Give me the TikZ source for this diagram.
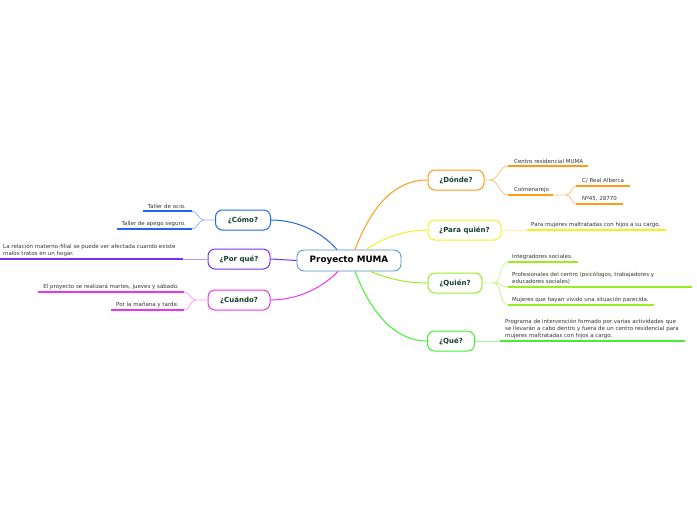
\documentclass[tikz,border=0pt]{standalone}
\usepackage{fontspec}
\setmainfont{DejaVu Sans}
\usetikzlibrary{calc}
\definecolor{corange}{HTML}{FF9A1A}
\definecolor{corangel}{HTML}{FFC27A}
\definecolor{cyellow}{HTML}{F2F222}
\definecolor{cyellowl}{HTML}{F8F8A0}
\definecolor{clgreen}{HTML}{99EE22}
\definecolor{clgreenl}{HTML}{C8F590}
\definecolor{cgreen}{HTML}{44EE33}
\definecolor{cgreenl}{HTML}{A8F5A0}
\definecolor{cblue}{HTML}{2266EE}
\definecolor{cbluel}{HTML}{90B0F5}
\definecolor{cpurple}{HTML}{7733EE}
\definecolor{cpurplel}{HTML}{B898F5}
\definecolor{cmag}{HTML}{EE33EE}
\definecolor{cmagl}{HTML}{F5A0F5}
\definecolor{ccentral}{HTML}{4A90D0}
\definecolor{labelc}{HTML}{123E30}
\definecolor{textc}{HTML}{333333}
\tikzset{
  central/.style={draw=ccentral, line width=0.8pt, rounded corners=7pt, fill=white,
    minimum width=104pt, minimum height=21pt, inner sep=0pt,
    font=\bfseries\fontsize{8.8}{10}\selectfont, text=black},
  branch/.style={draw=#1, line width=1pt, rounded corners=7pt, fill=white,
    minimum height=20pt, inner sep=0pt,
    font=\bfseries\fontsize{7}{8}\selectfont, text=labelc},
  leaf/.style={inner sep=0pt, font=\fontsize{5.5}{7}\selectfont, text=textc, align=left},
  uline/.style={draw=#1, line width=1.2pt},
  conn/.style={draw=#1, line width=1pt},
  lconn/.style={draw=#1, line width=0.8pt},
}
\begin{document}
\begin{tikzpicture}[x=1pt,y=-1pt]
\useasboundingbox (0,0) rectangle (697,520);

% central and branches
\node[central] (c) at (349,260.5) {Proyecto MUMA};
\node[branch=corange, minimum width=56pt] (dn) at (456,180) {¿Dónde?};
\node[branch=cyellow, minimum width=73pt] (pq) at (464.5,230) {¿Para quién?};
\node[branch=clgreen, minimum width=54pt] (qn) at (455,283) {¿Quién?};
\node[branch=cgreen, minimum width=47pt] (qe) at (451,341) {¿Qué?};
\node[branch=cblue, minimum width=55pt] (cm) at (243,220) {¿Cómo?};
\node[branch=cpurple, minimum width=62pt] (pr) at (239,259) {¿Por qué?};
\node[branch=cmag, minimum width=62pt] (cu) at (239,300) {¿Cuándo?};

% central connectors
\draw[conn=corange] ([xshift=6pt]c.north) .. controls (372,205) and (395,180) .. (dn.west);
\draw[conn=cyellow] ([xshift=17pt]c.north) .. controls (385,237) and (405,230) .. (pq.west);
\draw[conn=clgreen] ([xshift=21pt]c.south) .. controls (390,279) and (405,283) .. (qn.west);
\draw[conn=cgreen] ([xshift=6pt]c.south) .. controls (373,318) and (398,341) .. (qe.west);
\draw[conn=cblue] ([xshift=-12pt]c.north) .. controls (318,228) and (292,220) .. (cm.east);
\draw[conn=cpurple] (c.west) -- (pr.east);
\draw[conn=cmag] ([xshift=-11pt]c.south) .. controls (318,292) and (292,300) .. (cu.east);

% ---------- Dónde ----------
\coordinate (d1s) at (508,166); \coordinate (d1e) at (588,166);
\coordinate (d2s) at (508,195); \coordinate (d2e) at (553,195);
\coordinate (d3s) at (576,186); \coordinate (d3e) at (630,186);
\coordinate (d4s) at (576,204); \coordinate (d4e) at (623,204);
\coordinate (dsp) at (490,180);
\coordinate (d2sp) at (566,195);
\node[leaf, anchor=south west] (d1t) at (514,163.5) {Centro residencial MUMA};
\node[leaf, anchor=south west] (d2t) at (514,192.5) {Colmenarejo};
\node[leaf, anchor=south west] (d3t) at (582,183.5) {C/ Real Alberca};
\node[leaf, anchor=south west] (d4t) at (582,201.5) {Nº45, 28770};
\draw[lconn=corangel] (dn.east) -- (dsp) .. controls (499,180) and (499,166) .. (d1s);
\draw[lconn=corangel] (dsp) .. controls (499,180) and (499,195) .. (d2s);
\draw[lconn=corangel] (d2e) -- (d2sp) .. controls (572,195) and (571,186) .. (d3s);
\draw[lconn=corangel] (d2sp) .. controls (572,195) and (571,204) .. (d4s);
\draw[uline=corange] (d1s) -- (d1e);
\draw[uline=corange] (d2s) -- (d2e);
\draw[uline=corange] (d3s) -- (d3e);
\draw[uline=corange] (d4s) -- (d4e);

% ---------- Para quién ----------
\coordinate (p1s) at (527,230); \coordinate (p1e) at (666,230);
\node[leaf, anchor=south west] (p1t) at (531,227.5) {Para mujeres maltratadas con hijos a su cargo.};
\draw[lconn=cyellowl] (pq.east) -- (p1s);
\draw[uline=cyellow] (p1s) -- (p1e);

% ---------- Quién ----------
\coordinate (q1s) at (508,262); \coordinate (q1e) at (578,262);
\coordinate (q2s) at (508,287); \coordinate (q2e) at (692,287);
\coordinate (q3s) at (508,305); \coordinate (q3e) at (654,305);
\coordinate (qsp) at (494,283);
\node[leaf, anchor=south west] (q1t) at (512,259.5) {Integradores sociales.};
\node[leaf, anchor=south west] (q2t) at (512,284.5) {Profesionales del centro (psicólogos, trabajadores y\\educadores sociales)};
\node[leaf, anchor=south west] (q3t) at (512,302.5) {Mujeres que hayan vivido una situación parecida.};
\draw[lconn=clgreenl] (qn.east) -- (qsp) .. controls (501,283) and (500,262) .. (q1s);
\draw[lconn=clgreenl] (qsp) .. controls (501,283) and (501,287) .. (q2s);
\draw[lconn=clgreenl] (qsp) .. controls (501,283) and (500,305) .. (q3s);
\draw[uline=clgreen] (q1s) -- (q1e);
\draw[uline=clgreen] (q2s) -- (q2e);
\draw[uline=clgreen] (q3s) -- (q3e);

% ---------- Qué ----------
\coordinate (e1s) at (500,341); \coordinate (e1e) at (685,341);
\node[leaf, anchor=south west] (e1t) at (505,338.5) {Programa de intervención formado por varias actividades que\\se llevarán a cabo dentro y fuera de un centro residencial para\\mujeres maltratadas con hijos a cargo.};
\draw[lconn=cgreenl] (qe.east) -- (e1s);
\draw[uline=cgreen] (e1s) -- (e1e);

% ---------- Cómo ----------
\coordinate (c1s) at (192,211); \coordinate (c1e) at (143,211);
\coordinate (c2s) at (192,229); \coordinate (c2e) at (117,229);
\coordinate (csp) at (204,220);
\node[leaf, anchor=south east] (c1t) at (186,208.5) {Taller de ocio.};
\node[leaf, anchor=south east] (c2t) at (186,226.5) {Taller de apego seguro.};
\draw[lconn=cbluel] (cm.west) -- (csp) .. controls (198,220) and (198,211) .. (c1s);
\draw[lconn=cbluel] (csp) .. controls (198,220) and (198,229) .. (c2s);
\draw[uline=cblue] (c1s) -- (c1e);
\draw[uline=cblue] (c2s) -- (c2e);

% ---------- Por qué ----------
\coordinate (r1s) at (183,259); \coordinate (r1e) at (0,259);
\node[leaf, anchor=south west] (r1t) at (3,256.5) {La relación materno-filial se puede ver afectada cuando existe\\malos tratos en un hogar.};
\draw[lconn=cpurplel] (pr.west) -- (r1s);
\draw[uline=cpurple] (r1s) -- (r1e);

% ---------- Cuándo ----------
\coordinate (k1s) at (184,292); \coordinate (k1e) at (38,292);
\coordinate (k2s) at (184,310); \coordinate (k2e) at (111,310);
\coordinate (ksp) at (196,300);
\node[leaf, anchor=south east] (k1t) at (179,289.5) {El proyecto se realizará martes, jueves y sábado.};
\node[leaf, anchor=south east] (k2t) at (179,307.5) {Por la mañana y tarde.};
\draw[lconn=cmagl] (cu.west) -- (ksp) .. controls (190,300) and (190,292) .. (k1s);
\draw[lconn=cmagl] (ksp) .. controls (190,300) and (190,310) .. (k2s);
\draw[uline=cmag] (k1s) -- (k1e);
\draw[uline=cmag] (k2s) -- (k2e);
\end{tikzpicture}
\end{document}
